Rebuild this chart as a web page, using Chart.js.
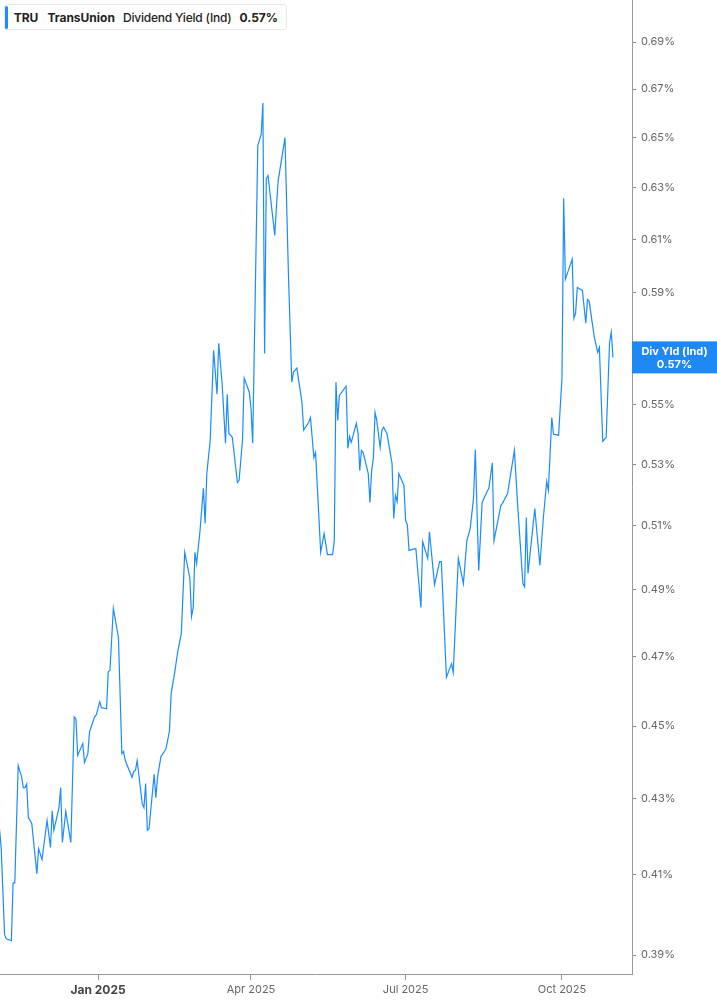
<!DOCTYPE html>
<html>
<head>
<meta charset="utf-8">
<title>TRU Dividend Yield</title>
<script src="https://cdn.jsdelivr.net/npm/chart.js@4.4.1/dist/chart.umd.min.js"></script>
<style>
    html, body { margin: 0; padding: 0; background: #fff; }
    #wrap { position: relative; width: 717px; height: 1005px; }
    #legend {
        position: absolute; left: 4px; top: 4px; height: 26px; width: 283px;
        box-sizing: border-box; border: 1px solid #e8e8e8; border-radius: 3px; background: #fff;
        font-family: Inter, "Noto Sans", sans-serif; font-size: 12px; color: #222;
        display: flex; align-items: center; white-space: nowrap;
    }
    #legend .bar { width: 3px; height: 23px; background: #1a8cff; border-radius: 2px; margin-right: 6px; }
    #legend span { margin-right: 8px; }
    #legend .b { font-weight: 700; }
    #legend .m { font-weight: 500; letter-spacing: -0.2px; }
    #legend .first { margin-right: 9px; }
</style>
</head>
<body>
<div id="wrap">
    <canvas id="chart" width="717" height="1005"></canvas>
    <div id="legend">
        <div class="bar"></div>
        <span class="b first">TRU</span>
        <span class="b">TransUnion</span>
        <span class="m">Dividend Yield (Ind)</span>
        <span class="b">0.57%</span>
    </div>
</div>
<script>
// days counted from 1 Jan 2025 (negative = late 2024)
const days = [
    -58, -57, -55, -54, -51, -50, -49, -47, -45, -44,
    -43, -42, -41, -39, -36, -35, -33, -30, -28, -27,
    -26, -23, -22, -21, -19, -16, -14, -13, -12, -9,
    -8, -6, -5, -3, -2, -1, 1, 2, 5, 6,
    7, 9, 12, 14, 15, 16, 20, 21, 22, 23,
    26, 27, 28, 29, 30, 33, 34, 35, 37, 39,
    40, 42, 43, 45, 47, 49, 51, 54, 55, 56,
    57, 58, 60, 62, 63, 64, 66, 68, 70, 71,
    73, 75, 76, 77, 79, 82, 83, 85, 86, 89,
    90, 91, 94, 96, 97, 98, 99, 100, 104, 105,
    106, 110, 112, 114, 115, 117, 120, 121, 124, 125,
    127, 128, 131, 133, 135, 138, 139, 140, 141, 142,
    146, 147, 148, 149, 152, 153, 154, 155, 156, 159,
    160, 161, 162, 163, 164, 166, 167, 168, 170, 173,
    174, 175, 176, 177, 180, 181, 182, 183, 187, 190,
    191, 194, 195, 198, 201, 202, 205, 208, 209, 212,
    215, 217, 219, 221, 222, 224, 226, 229, 230, 232,
    233, 237, 238, 241, 245, 247, 250, 251, 252, 253,
    257, 260, 262, 264, 265, 267, 268, 271, 273, 274,
    275, 279, 280, 281, 282, 285, 287, 288, 289, 292,
    294, 295, 297, 299, 301, 302, 303
];

// dividend yield (ind), in percent
const yieldPct = [
    0.422, 0.417, 0.395, 0.394, 0.3935, 0.408, 0.408, 0.439, 0.436, 0.433,
    0.433, 0.434, 0.425, 0.4234, 0.4103, 0.4168, 0.414, 0.4242, 0.4171, 0.4268,
    0.4216, 0.4276, 0.433, 0.4184, 0.4266, 0.4184, 0.4526, 0.452, 0.4418, 0.4451,
    0.4399, 0.4423, 0.4484, 0.4512, 0.4526, 0.4532, 0.4569, 0.4552, 0.4549, 0.4656,
    0.4659, 0.4843, 0.4756, 0.4423, 0.4429, 0.4404, 0.4358, 0.4374, 0.4377, 0.4404,
    0.4287, 0.4276, 0.4341, 0.4216, 0.4221, 0.4366, 0.4303, 0.4358, 0.4415, 0.4429,
    0.4437, 0.4486, 0.4592, 0.465, 0.4717, 0.4768, 0.5016, 0.4937, 0.4819, 0.4846,
    0.5016, 0.4981, 0.5084, 0.5221, 0.5107, 0.5269, 0.538, 0.5691, 0.5537, 0.5716,
    0.5575, 0.537, 0.5537, 0.5403, 0.539, 0.524, 0.5247, 0.538, 0.5593, 0.5544,
    0.5488, 0.537, 0.6468, 0.6513, 0.6642, 0.568, 0.6336, 0.6348, 0.6115, 0.6231,
    0.6328, 0.65, 0.5975, 0.5579, 0.5614, 0.5628, 0.5508, 0.5414, 0.5441, 0.5457,
    0.5322, 0.5339, 0.5016, 0.5075, 0.5009, 0.5009, 0.5053, 0.5579, 0.5447, 0.5533,
    0.5565, 0.5353, 0.5393, 0.5373, 0.5437, 0.5403, 0.5279, 0.5346, 0.5339, 0.5269,
    0.5175, 0.5279, 0.5319, 0.5474, 0.5447, 0.5356, 0.5414, 0.5424, 0.5403, 0.5302,
    0.5123, 0.5198, 0.5178, 0.5269, 0.523, 0.5116, 0.5103, 0.5022, 0.5028, 0.4846,
    0.505, 0.4997, 0.5081, 0.4916, 0.4987, 0.4987, 0.4639, 0.4679, 0.4653, 0.4997,
    0.4919, 0.5053, 0.5091, 0.5192, 0.5349, 0.4959, 0.5175, 0.5211, 0.5221, 0.5305,
    0.5053, 0.5165, 0.5172, 0.5204, 0.5346, 0.5159, 0.4919, 0.4909, 0.5126, 0.495,
    0.5155, 0.4975, 0.5123, 0.5243, 0.5214, 0.5457, 0.54, 0.5397, 0.5593, 0.6258,
    0.5949, 0.6025, 0.5806, 0.5824, 0.5919, 0.5908, 0.5788, 0.5875, 0.5868, 0.5738,
    0.5684, 0.5701, 0.5376, 0.539, 0.572, 0.5756, 0.5666
];

// x axis ticks (1st of Jan / Apr / Jul / Oct)
const tickDays = [0, 90, 181, 273];
const tickLabels = ['Jan 2025', 'Apr 2025', 'Jul 2025', 'Oct 2025'];

// y axis ticks, percent
const yTicks = [0.39, 0.41, 0.43, 0.45, 0.47, 0.49, 0.51, 0.53, 0.55, 0.57, 0.59, 0.61, 0.63, 0.65, 0.67, 0.69];

const FONT = 'Inter, "Noto Sans", sans-serif';
const LINE_COLOR = '#1a8cff';

// Blue tag on the right axis showing the last value
const lastValueTag = {
    id: 'lastValueTag',
    afterDraw(chart) {
        const ctx = chart.ctx;
        const last = yieldPct[yieldPct.length - 1];
        const y = chart.scales.y.getPixelForValue(last);
        const left = chart.chartArea.right;
        const w = chart.width - left;
        ctx.save();
        ctx.fillStyle = '#1e88f5';
        ctx.fillRect(left, y - 16, w, 32);
        ctx.fillStyle = '#fff';
        ctx.textAlign = 'center';
        ctx.textBaseline = 'middle';
        ctx.font = 'bold 11px ' + FONT;
        ctx.fillText('Div Yld (Ind)', left + w / 2, y - 6);
        ctx.fillText(last.toFixed(2) + '%', left + w / 2, y + 7);
        ctx.restore();
    }
};

const points = days.map((d, i) => ({ x: d, y: yieldPct[i] }));

new Chart(document.getElementById('chart').getContext('2d'), {
    type: 'line',
    data: {
        datasets: [{
            label: 'Dividend Yield (Ind)',
            data: points,
            borderColor: LINE_COLOR,
            borderWidth: 1.2,
            pointRadius: 0,
            tension: 0,
            fill: false
        }]
    },
    options: {
        responsive: false,
        animation: false,
        layout: { padding: 0 },
        plugins: {
            legend: { display: false },
            tooltip: { enabled: false }
        },
        scales: {
            x: {
                type: 'linear',
                min: -57.7,
                max: 314.2,
                grid: { drawOnChartArea: false, tickLength: 6, color: '#999' },
                border: { display: true, color: '#999' },
                afterBuildTicks: (scale) => { scale.ticks = tickDays.map(v => ({ value: v })); },
                afterFit: (scale) => {
                    scale.height = 31;
                    scale.paddingLeft = 0;
                    scale.paddingRight = 0;
                },
                ticks: {
                    autoSkip: false,
                    maxRotation: 0,
                    padding: 3,
                    callback: (v) => tickLabels[tickDays.indexOf(v)],
                    color: (c) => (c.tick && c.tick.value === 0) ? '#444' : '#666',
                    font: (c) => (c.tick && c.tick.value === 0)
                        ? { family: FONT, size: 12, weight: 'bold' }
                        : { family: FONT, size: 11 }
                }
            },
            y: {
                type: 'logarithmic',
                position: 'right',
                min: 0.3854,
                max: 0.7084,
                grid: { drawOnChartArea: false, tickLength: 4, color: '#888' },
                border: { display: true, color: '#999' },
                afterBuildTicks: (scale) => { scale.ticks = yTicks.map(v => ({ value: v })); },
                afterFit: (scale) => {
                    scale.width = 85;
                    scale.paddingTop = 0;
                    scale.paddingBottom = 0;
                },
                ticks: {
                    padding: 5,
                    color: '#666',
                    font: { family: FONT, size: 11 },
                    callback: (v) => v.toFixed(2) + '%'
                }
            }
        }
    },
    plugins: [lastValueTag]
});
</script>
</body>
</html>
